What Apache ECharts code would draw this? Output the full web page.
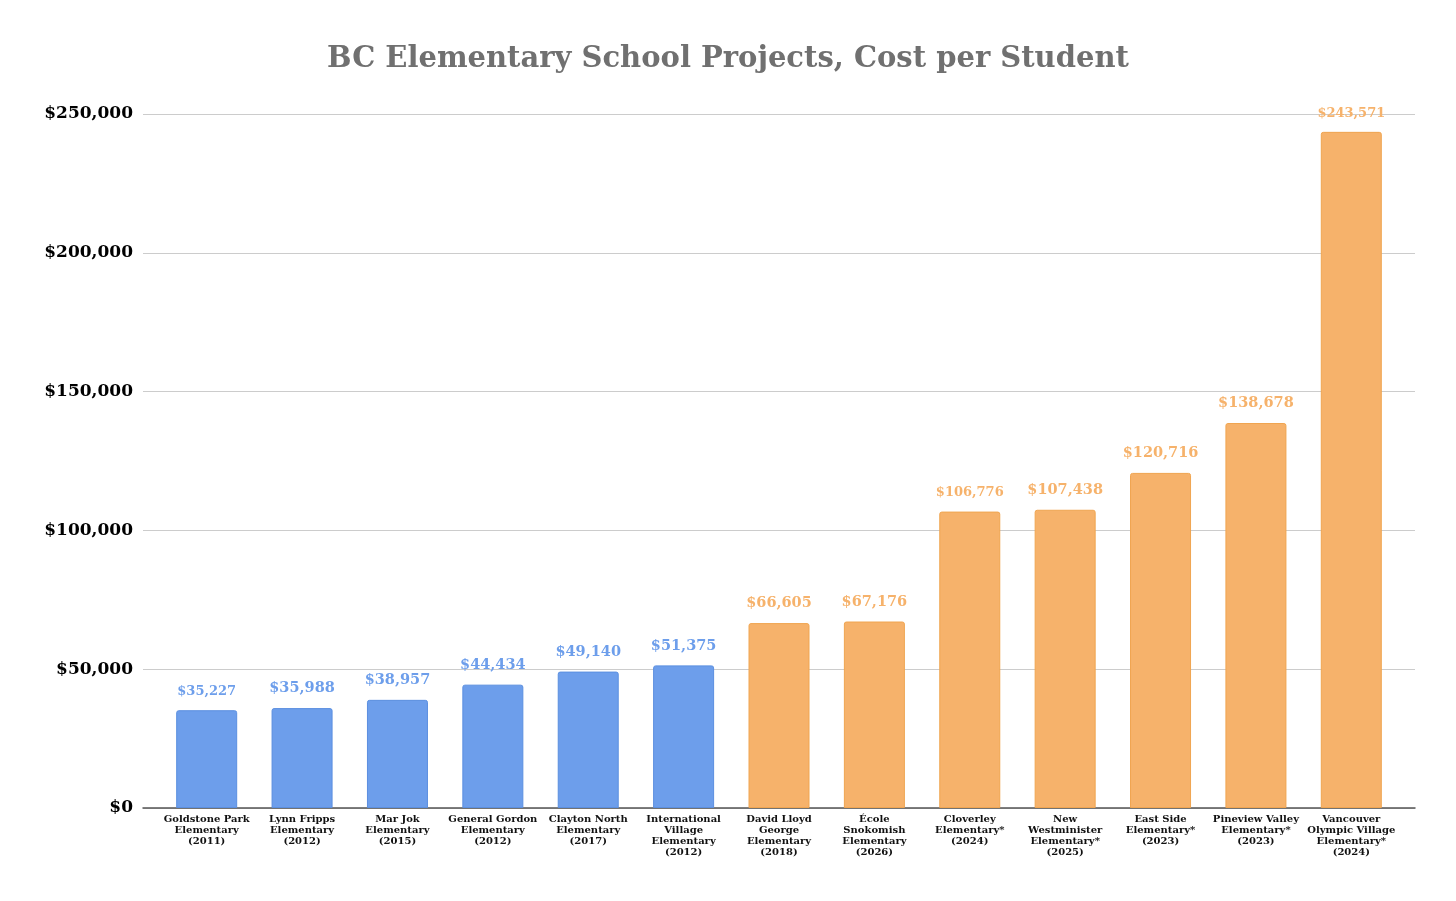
<!DOCTYPE html>
<html>
<head>
<meta charset="utf-8">
<script src="https://cdn.jsdelivr.net/npm/echarts@6/dist/echarts.min.js"></script>
<style>
  html, body { margin: 0; padding: 0; background: #fff; }
  #chart { width: 1456px; height: 901px; }
</style>
</head>
<body>
<div id="chart"></div>
<script>
// school projects, in display order
const schools = [
  'Goldstone Park\nElementary\n(2011)',
  'Lynn Fripps\nElementary\n(2012)',
  'Mar Jok\nElementary\n(2015)',
  'General Gordon\nElementary\n(2012)',
  'Clayton North\nElementary\n(2017)',
  'International\nVillage\nElementary\n(2012)',
  'David Lloyd\nGeorge\nElementary\n(2018)',
  'École\nSnokomish\nElementary\n(2026)',
  'Cloverley\nElementary*\n(2024)',
  'New\nWestminister\nElementary*\n(2025)',
  'East Side\nElementary*\n(2023)',
  'Pineview Valley\nElementary*\n(2023)',
  'Vancouver\nOlympic Village\nElementary*\n(2024)'
]
const costPerStudent = [35227, 35988, 38957, 44434, 49140, 51375, 66605, 67176, 106776, 107438, 120716, 138678, 243571]
// first six are older (blue), the rest newer / planned (orange)
const isRecent = [false, false, false, false, false, false, true, true, true, true, true, true, true]
const yTicks = [0, 50000, 100000, 150000, 200000, 250000]

const BLUE = '#6d9eeb'
const ORANGE = '#f6b26b'
const serif = 'DejaVu Serif'

// some labels render a bit smaller in the original
const smallLabel = [0, 8, 12]

const fmt = v => '$' + v.toLocaleString('en-US')

const chart = echarts.init(document.getElementById('chart'))

const option = {
  animation: false,
  title: {
    text: 'BC Elementary School Projects, Cost per Student',
    left: 'center',
    top: 40,
    textStyle: {
      fontFamily: serif,
      fontSize: 29,
      fontWeight: 'bold',
      color: '#707070'
    }
  },
  grid: [
    { left: 143, right: 41, top: 114, bottom: 93 },
    { left: 159, right: 57, top: 114, bottom: 93 }
  ],
  xAxis: [
    {
      gridIndex: 0,
      type: 'value',
      min: 0,
      max: 1,
      axisLine: { show: true, lineStyle: { color: '#555', width: 1.5 } },
      axisTick: { show: false },
      axisLabel: { show: false },
      splitLine: { show: false }
    },
    {
      gridIndex: 1,
      type: 'category',
      data: schools,
      axisLine: { show: false },
      axisTick: { show: false },
      axisLabel: {
        interval: 0,
        margin: 6,
        fontFamily: serif,
        fontWeight: 'bold',
        fontSize: 10,
        lineHeight: 11,
        color: '#111'
      }
    }
  ],
  yAxis: [
    {
      gridIndex: 0,
      type: 'value',
      min: 0,
      max: 250000,
      interval: 50000,
      axisLine: { show: false },
      axisTick: { show: false },
      axisLabel: {
        margin: 10,
        fontFamily: serif,
        fontWeight: 'bold',
        fontSize: 17,
        color: '#000',
        formatter: v => yTicks.includes(v) ? fmt(v) : ''
      },
      splitLine: { lineStyle: { color: '#cccccc', width: 1 } }
    },
    {
      gridIndex: 1,
      type: 'value',
      min: 0,
      max: 250000,
      interval: 50000,
      show: false
    }
  ],
  series: [
    {
      type: 'bar',
      xAxisIndex: 1,
      yAxisIndex: 1,
      barWidth: 61,
      data: costPerStudent.map((v, i) => {
        const c = isRecent[i] ? ORANGE : BLUE
        return {
          value: v,
          itemStyle: {
            color: c,
            borderColor: isRecent[i] ? '#f0a550' : '#5b8fe0',
            borderWidth: 1,
            borderRadius: [2, 2, 0, 0]
          },
          label: {
            color: c,
            fontSize: smallLabel.includes(i) ? 13 : 14.5
          }
        }
      }),
      label: {
        show: true,
        position: 'top',
        distance: 12,
        fontFamily: serif,
        fontWeight: 'bold',
        formatter: p => fmt(p.value)
      }
    }
  ]
}

chart.setOption(option)
</script>
</body>
</html>
